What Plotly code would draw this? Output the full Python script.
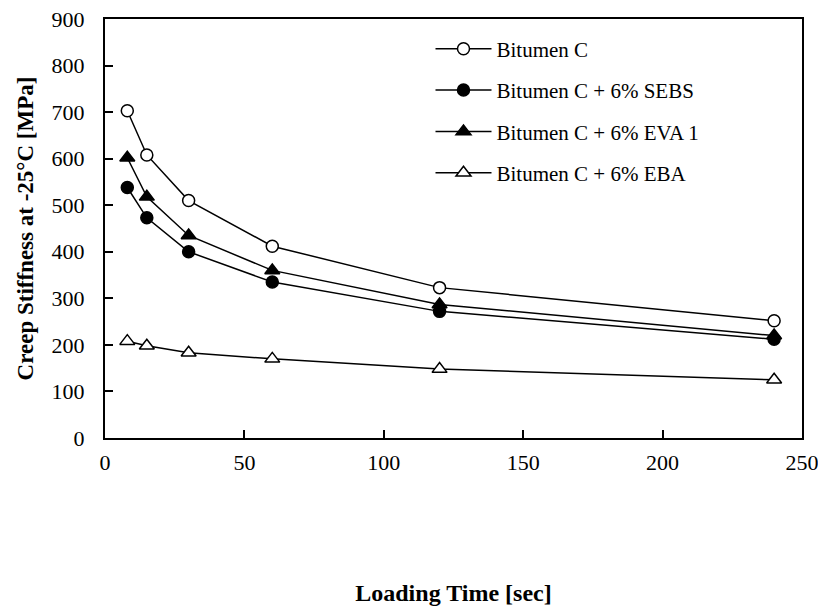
import plotly.graph_objects as go

loading_time = [8, 15, 30, 60, 120, 240]
bitumen_c = [703, 608, 510, 412, 323, 252]
sebs = [538, 473, 400, 335, 272, 212]
eva1 = [602, 518, 435, 360, 287, 220]
eba = [208, 198, 183, 170, 148, 125]

series = [
    ("Bitumen C", bitumen_c, "circle", "white"),
    ("Bitumen C + 6% SEBS", sebs, "circle", "black"),
    ("Bitumen C + 6% EVA 1", eva1, "triangle-up", "black"),
    ("Bitumen C + 6% EBA", eba, "triangle-up", "white"),
]

FONT = "Liberation Serif"

fig = go.Figure()
for i, (name, vals, sym, fill) in enumerate(series):
    fig.add_trace(go.Scatter(
        x=loading_time, y=vals, name=name, mode="lines+markers",
        legendgroup=f"g{i}",
        line=dict(color="black", width=1.5),
        marker=dict(symbol=sym, size=12 if sym == "circle" else 13,
                    color=fill, line=dict(color="black", width=1.5)),
    ))

fig.update_layout(
    width=818, height=614,
    margin=dict(l=105, r=16, t=19, b=176, autoexpand=False),
    paper_bgcolor="white", plot_bgcolor="white",
    font=dict(family=FONT, size=22, color="black"),
    showlegend=True,
    legend=dict(x=0.467, y=0.977, xanchor="left", yanchor="top",
                bgcolor="rgba(0,0,0,0)", borderwidth=0,
                font=dict(family=FONT, size=21, color="black"),
                tracegroupgap=11, itemwidth=56, traceorder="grouped"),
    xaxis=dict(range=[0, 250], tickvals=[0, 50, 100, 150, 200, 250],
               ticks="inside", ticklen=8, tickwidth=1.5, tickcolor="black",
               showline=True, linecolor="black", linewidth=2, mirror=True,
               showgrid=False, zeroline=False, ticklabelstandoff=4, automargin=False,
               ticklabeloverflow="allow",
               tickfont=dict(family=FONT, size=22),
               title=dict(text="<b>Loading Time [sec]</b>", standoff=110,
                          font=dict(family=FONT, size=24))),
    yaxis=dict(range=[0, 900], tickvals=list(range(0, 901, 100)),
               ticks="inside", ticklen=8, tickwidth=1.5, tickcolor="black",
               showline=True, linecolor="black", linewidth=2, mirror=True,
               showgrid=False, zeroline=False, ticklabelstandoff=14, automargin=False,
               ticklabeloverflow="allow",
               tickfont=dict(family=FONT, size=22),
               title=dict(text="<b>Creep Stiffness at -25°C [MPa]</b>", standoff=12,
                          font=dict(family=FONT, size=23))),
)

fig.write_html("out.html")
